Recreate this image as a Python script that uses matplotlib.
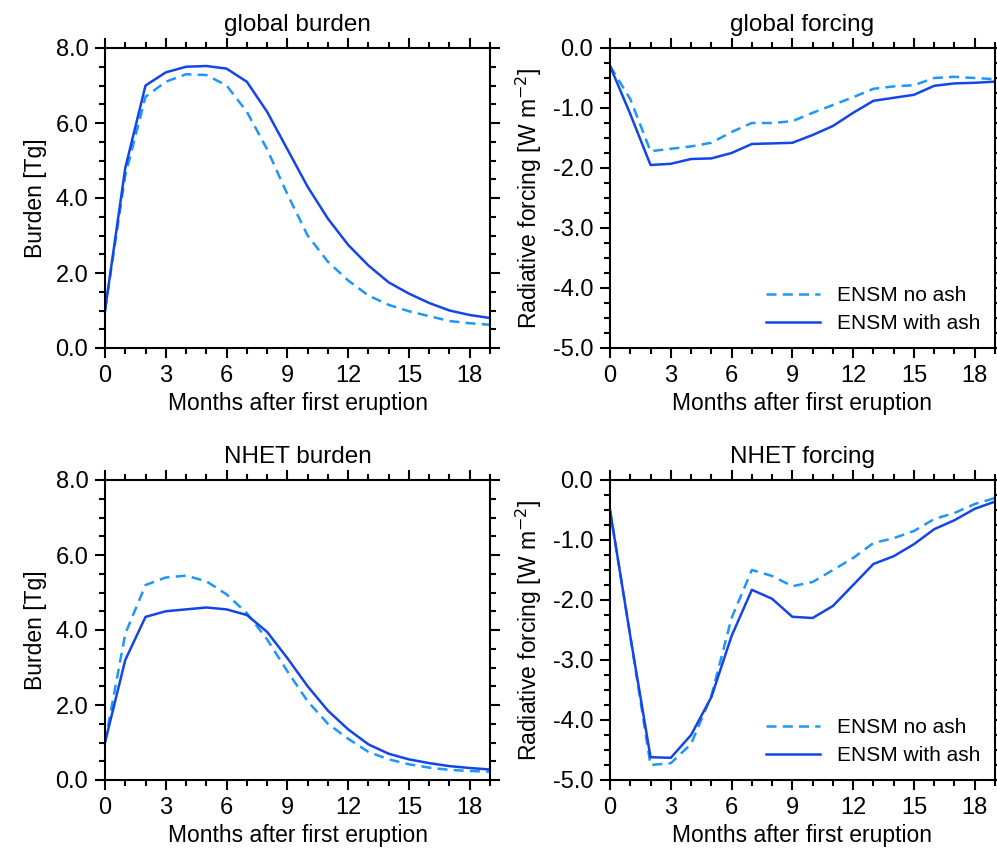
import matplotlib
matplotlib.use("Agg")
import matplotlib.pyplot as plt
from matplotlib.ticker import MultipleLocator, FormatStrFormatter

plt.rcParams['font.family'] = ['Liberation Sans', 'DejaVu Sans']

months = list(range(20))
gb_noash = [1.0,4.6,6.7,7.1,7.3,7.28,7.0,6.3,5.3,4.1,3.0,2.3,1.8,1.4,1.15,0.98,0.85,0.72,0.66,0.62]
gb_ash = [1.0,4.8,7.0,7.35,7.5,7.52,7.45,7.1,6.3,5.3,4.3,3.45,2.75,2.2,1.75,1.45,1.2,1.0,0.88,0.8]
gf_noash = [-0.3,-0.85,-1.72,-1.68,-1.64,-1.58,-1.4,-1.25,-1.25,-1.22,-1.08,-0.95,-0.82,-0.68,-0.64,-0.62,-0.5,-0.48,-0.5,-0.52]
gf_ash = [-0.3,-1.1,-1.95,-1.93,-1.85,-1.84,-1.75,-1.6,-1.59,-1.58,-1.45,-1.3,-1.08,-0.88,-0.83,-0.78,-0.63,-0.59,-0.58,-0.56]
nb_noash = [1.0,3.9,5.2,5.4,5.45,5.3,4.95,4.45,3.75,2.9,2.1,1.5,1.1,0.75,0.55,0.42,0.33,0.27,0.24,0.22]
nb_ash = [1.0,3.2,4.35,4.5,4.55,4.6,4.55,4.4,3.95,3.25,2.5,1.85,1.35,0.95,0.7,0.55,0.45,0.37,0.32,0.28]
nf_noash = [-0.5,-2.6,-4.75,-4.72,-4.4,-3.6,-2.3,-1.5,-1.6,-1.77,-1.7,-1.5,-1.3,-1.05,-0.97,-0.85,-0.65,-0.55,-0.4,-0.3]
nf_ash = [-0.5,-2.6,-4.62,-4.63,-4.25,-3.62,-2.6,-1.83,-1.98,-2.28,-2.3,-2.1,-1.75,-1.4,-1.27,-1.07,-0.82,-0.67,-0.48,-0.36]

C_NO = '#1E96FA'
C_ASH = '#1446E6'
W, H = 997, 852
fig = plt.figure(figsize=(W/100, H/100), dpi=100)

def mk(l, t, r, b):
    return fig.add_axes([l/W, 1-b/H, (r-l)/W, (b-t)/H])

panels = [
    ((105, 48, 490, 348), 'global burden', gb_noash, gb_ash, 'burden'),
    ((610, 48, 995, 348), 'global forcing', gf_noash, gf_ash, 'forcing'),
    ((105, 480, 490, 780), 'NHET burden', nb_noash, nb_ash, 'burden'),
    ((610, 480, 995, 780), 'NHET forcing', nf_noash, nf_ash, 'forcing'),
]
for box, title, a, b, kind in panels:
    ax = mk(*box)
    ax.plot(months, a, color=C_NO, lw=1.8, ls=(0, (4, 2.5)), label='ENSM no ash')
    ax.plot(months, b, color=C_ASH, lw=1.8, label='ENSM with ash')
    ax.set_xlim(0, 19)
    ax.xaxis.set_major_locator(MultipleLocator(3))
    ax.xaxis.set_minor_locator(MultipleLocator(1))
    if kind == 'burden':
        ax.set_ylim(0, 8)
        ax.yaxis.set_major_locator(MultipleLocator(2))
        ax.yaxis.set_minor_locator(MultipleLocator(0.5))
        ax.set_ylabel('Burden [Tg]', fontsize=16.5, labelpad=6)
    else:
        ax.set_ylim(-5, 0)
        ax.yaxis.set_major_locator(MultipleLocator(1))
        ax.yaxis.set_minor_locator(MultipleLocator(0.25))
        ax.set_ylabel('Radiative forcing [W m$^{-2}$]', fontsize=16.5, labelpad=6)
        ax.legend(loc='lower right', frameon=False, fontsize=15, handlelength=2.6,
                  borderaxespad=0.3, labelspacing=0.45)
    ax.yaxis.set_major_formatter(FormatStrFormatter('%.1f'))
    for s in ax.spines.values():
        s.set_linewidth(1.5)
    ax.tick_params(which='both', direction='out', top=True, right=True, labelsize=17, width=1.5)
    ax.tick_params(which='major', length=7, pad=5)
    ax.tick_params(which='minor', length=4)
    ax.set_xlabel('Months after first eruption', fontsize=16.5, labelpad=4)
    ax.set_title(title, fontsize=17.5, pad=12)

fig.savefig('out.png', dpi=100)
